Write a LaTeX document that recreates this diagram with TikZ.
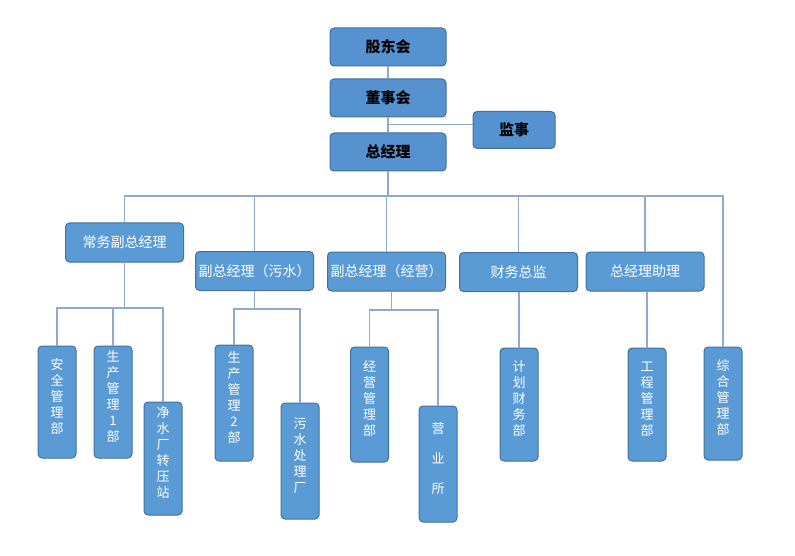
\documentclass[tikz,border=0pt]{standalone}
\usepackage{fontspec}
\setmainfont{Noto Sans CJK SC}
\usetikzlibrary{positioning}
\definecolor{BoxBlue}{HTML}{5B9BD5}
\definecolor{TopBlue}{HTML}{5592CF}
\definecolor{EdgeBlue}{HTML}{41719C}
\definecolor{LinkBlue}{HTML}{8FAACC}
\tikzset{
  topbox/.style={draw=EdgeBlue, line width=1pt, rounded corners=4pt, fill=TopBlue, align=center, minimum width=116pt, minimum height=38pt, inner sep=2pt, font=\fontsize{15}{18}\selectfont\bfseries, text=black},
  headbox/.style={draw=EdgeBlue, line width=1pt, rounded corners=4pt, fill=BoxBlue, align=center, minimum width=118pt, minimum height=39pt, inner sep=2pt, font=\fontsize{14}{17}\selectfont, text=white},
  deptbox/.style={draw=EdgeBlue, line width=1pt, rounded corners=4pt, fill=BoxBlue, align=center, minimum width=38pt, minimum height=113pt, inner sep=2pt, font=\fontsize{13}{16}\selectfont, text=white},
  link/.style={draw=LinkBlue, line width=1.1pt}
}
\newcommand{\lift}{\\[-4pt]\mbox{}}

\begin{document}
\begin{tikzpicture}[x=1pt, y=-1pt]
\useasboundingbox (0,0) rectangle (795,556);
% top of the chart
\node[topbox] (gdh) at (388,47) {股东会};
\node[topbox] (dsh) at (388,98) {董事会};
\node[topbox, minimum width=82pt, minimum height=37pt] (js) at (514,130) {监事};
\node[topbox] (zjl) at (388,152) {总经理};
% second level
\node[headbox] (cwfz) at (124.5,242.5) {常务副总经理};
\node[headbox] (fzws) at (254.5,271) {副总经理（污水）};
\node[headbox] (fzjy) at (386.5,271.5) {副总经理（经营）};
\node[headbox] (cwzj) at (518.5,272) {财务总监};
\node[headbox] (zjlzl) at (645,271.5) {总经理助理};
% departments
\node[deptbox, minimum height=112pt] (aqgl) at (57,402) {安\\全\\管\\理\\部\lift};
\node[deptbox, minimum height=112pt] (scgl1) at (113,402) {生\\产\\管\\理\\1\\部\lift};
\node[deptbox] (jsc) at (163,458.5) {净\\水\\厂\\转\\压\\站\lift};
\node[deptbox, minimum height=116pt] (scgl2) at (234,403) {生\\产\\管\\理\\2\\部\lift};
\node[deptbox, minimum height=116pt] (wscl) at (300,461) {污\\水\\处\\理\\厂\lift};
\node[deptbox, minimum height=115pt] (jygl) at (369.5,404.5) {经\\营\\管\\理\\部\lift};
\node[deptbox, minimum height=116pt] (yys) at (438,464) {营\\[14pt]业\\[14pt]所\lift};
\node[deptbox] (jhcw) at (519,404.5) {计\\划\\财\\务\\部\lift};
\node[deptbox] (gcgl) at (647,404.5) {工\\程\\管\\理\\部\lift};
\node[deptbox] (zhgl) at (723,403.5) {综\\合\\管\\理\\部\lift};
% connectors
\coordinate (bus) at (0,196);
\coordinate (subA) at (0,308);
\coordinate (subB) at (0,309);
\coordinate (subC) at (0,310);
\draw[link] (gdh) -- (dsh);
\draw[link] (dsh) -- (zjl);
\draw[link] (js.172) -- (js.172 -| dsh.south);
\draw[link] (zjl.south) -- (zjl.south |- bus);
\draw[link] (cwfz.north) |- (bus -| zhgl.north) -- (zhgl.north);
\foreach \n in {fzws,fzjy,cwzj,zjlzl}
  \draw[link] (\n.north) -- (\n.north |- bus);
\draw[link] (cwfz.south) -- (cwfz.south |- subA);
\draw[link] (aqgl.north) |- (jsc.north |- subA) -- (jsc.north);
\draw[link] (scgl1.north) -- (scgl1.north |- subA);
\draw[link] (fzws.south) -- (fzws.south |- subB);
\draw[link] (scgl2.north) |- (wscl.north |- subB) -- (wscl.north);
\draw[link] (fzjy.-77) -- (fzjy.-77 |- subC);
\draw[link] (jygl.north) |- (yys.north |- subC) -- (yys.north);
\draw[link] (jhcw.north) -- (jhcw.north |- cwzj.south);
\draw[link] (gcgl.north) -- (gcgl.north |- zjlzl.south);
\end{tikzpicture}
\end{document}
